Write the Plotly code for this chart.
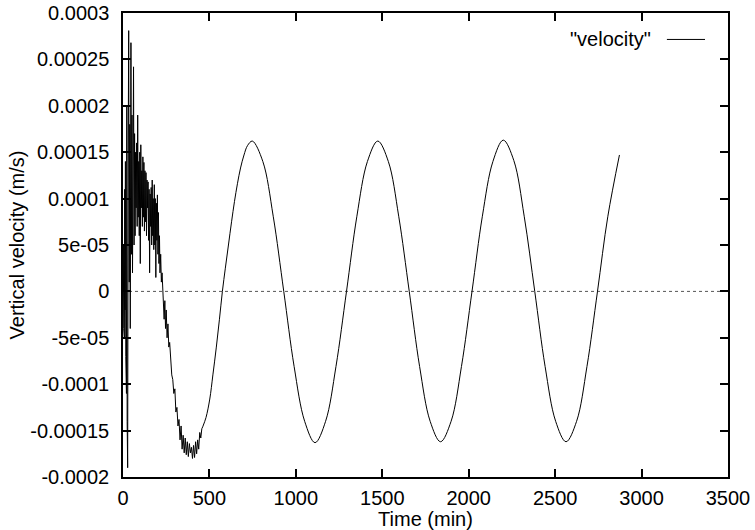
import plotly.graph_objects as go

#%% DATA
# early, noisy part of the record (time in min, velocity in m/s)
t_noisy = [0, 2, 4, 6, 8, 10, 12, 14, 16, 18, 20, 22, 24, 27, 30, 33, 36, 39, 42, 46,
           49, 52, 55, 58, 61, 64, 67, 70, 73, 76, 79, 82, 85, 88, 91, 94, 97, 100,
           103, 106, 109, 112, 115, 118, 121, 124, 127, 130, 133, 136, 139, 142, 145,
           148, 151, 154, 157, 160, 163, 166, 169, 172, 175, 178, 181, 184, 187, 190,
           193, 196, 199, 202, 205, 208, 211, 214, 218, 222, 226, 230, 234, 238, 242,
           246, 250, 255, 260, 265, 270, 276, 282, 288, 294, 300, 306, 312, 318, 324,
           330, 336, 342, 348, 354, 360, 366, 372, 378, 384, 390, 396, 402, 408, 414,
           420, 426, 432, 438, 444, 450, 456, 461]
v_noisy = [0.0, 0.5e-4, -0.4e-4, 0.9e-4, -0.5e-4, 1.1e-4, -0.2e-4, 1.4e-4, -0.7e-4, 1.7e-4,
           -1.1e-4, 2.0e-4, -1.4e-4, -1.9e-4, 1.5e-4, 2.81e-4, 0.1e-4, 1.8e-4, -0.4e-4, 2.68e-4,
           0.4e-4, 1.9e-4, 0.2e-4, 1.6e-4, 2.42e-4, 0.5e-4, 1.7e-4, 0.6e-4, 1.5e-4, 0.9e-4,
           1.6e-4, 0.7e-4, 1.9e-4, 0.8e-4, 1.4e-4, 0.6e-4, 1.5e-4, 0.3e-4,
           1.58e-4, 0.9e-4, 1.3e-4, 0.7e-4, 1.45e-4, 0.8e-4, 1.39e-4, 0.65e-4, 1.3e-4, 0.75e-4,
           1.28e-4, 0.6e-4, 1.2e-4, 0.9e-4, 1.18e-4, 0.55e-4, 1.1e-4, 0.2e-4, 1.05e-4, 0.7e-4,
           1.12e-4, 0.5e-4, 1.2e-4, 0.6e-4, 1.0e-4, 0.45e-4, 1.15e-4, 0.5e-4, 1.0e-4, 0.15e-4,
           0.95e-4, 0.55e-4, 1.04e-4, 0.4e-4, 0.85e-4, 0.3e-4, 0.6e-4, 0.2e-4, 0.4e-4, 0.1e-4,
           0.2e-4, 0.0, -0.05e-4, -0.3e-4, -0.1e-4, -0.4e-4, -0.2e-4, -0.5e-4, -0.35e-4, -0.6e-4,
           -0.55e-4, -0.8e-4, -0.9e-4, -0.95e-4, -1.1e-4, -1.05e-4, -1.3e-4, -1.25e-4, -1.45e-4,
           -1.38e-4, -1.6e-4, -1.45e-4, -1.7e-4, -1.55e-4, -1.74e-4, -1.58e-4, -1.76e-4, -1.62e-4,
           -1.78e-4, -1.64e-4, -1.74e-4, -1.68e-4, -1.8e-4, -1.66e-4, -1.79e-4, -1.62e-4,
           -1.75e-4, -1.6e-4, -1.7e-4, -1.52e-4, -1.58e-4, -1.48e-4, -1.46e-4]

# later, smooth oscillation
t_smooth = [461, 480, 502, 520, 540, 558, 575, 592, 610, 628, 645, 662, 680, 700, 720, 748,
            809, 869, 930, 990, 1051, 1111, 1172, 1232, 1293, 1353, 1414, 1474, 1535, 1595,
            1656, 1716, 1777, 1837, 1898, 1958, 2019, 2079, 2140, 2200, 2261, 2321, 2382,
            2442, 2503, 2563, 2624, 2684, 2745, 2805, 2872]
v_smooth = [-1.46e-4, -1.36e-4, -1.16e-4, -0.9e-4, -0.6e-4, -0.3e-4, 0.0, 0.25e-4, 0.5e-4,
            0.75e-4, 0.97e-4, 1.16e-4, 1.33e-4, 1.47e-4, 1.57e-4, 1.62e-4,
            1.40e-4, 0.81e-4, 0.0, -0.81e-4, -1.40e-4, -1.63e-4, -1.40e-4, -0.81e-4, 0.0,
            0.81e-4, 1.40e-4, 1.62e-4, 1.40e-4, 0.81e-4, 0.0, -0.81e-4, -1.40e-4, -1.62e-4,
            -1.40e-4, -0.81e-4, 0.0, 0.81e-4, 1.40e-4, 1.63e-4, 1.41e-4, 0.81e-4, 0.0,
            -0.81e-4, -1.40e-4, -1.62e-4, -1.40e-4, -0.81e-4, 0.0, 0.81e-4, 1.47e-4]

x_ticks = [0, 500, 1000, 1500, 2000, 2500, 3000, 3500]
y_ticks = [0.0003, 0.00025, 0.0002, 0.00015, 0.0001, 0.00005, 0,
           -0.00005, -0.0001, -0.00015, -0.0002]
y_ticktext = ['0.0003', '0.00025', '0.0002', '0.00015', '0.0001', '5e-05', '0',
              '-5e-05', '-0.0001', '-0.00015', '-0.0002']

#%% PLOT
FONT = 'Liberation Sans, Arial, sans-serif'
FS = 20

fig = go.Figure()
fig.add_trace(go.Scatter(
    x=t_noisy, y=v_noisy, mode='lines',
    line=dict(color='black', width=1),
    name='"velocity"', showlegend=False,
))
fig.add_trace(go.Scatter(
    x=t_smooth, y=v_smooth, mode='lines',
    line=dict(color='black', width=1, shape='spline', smoothing=1.0),
    name='"velocity"', showlegend=False,
))

# dotted zero line
fig.add_hline(y=0, line=dict(color='#555555', width=1, dash='dot'), layer='below')

# gnuplot-style key: label then line sample
fig.add_annotation(
    x=0.876, y=0.943, xref='paper', yref='paper',
    text='"velocity"', showarrow=False, xanchor='right', yanchor='middle',
    font=dict(family=FONT, size=FS, color='black'),
)
fig.add_shape(
    type='line', xref='paper', yref='paper',
    x0=0.899, x1=0.962, y0=0.943, y1=0.943,
    line=dict(color='black', width=1),
)

axis_common = dict(
    showline=True, linecolor='black', linewidth=1.5, mirror='ticks',
    ticks='inside', ticklen=8, tickwidth=1.5, tickcolor='black',
    showgrid=False, zeroline=False, automargin=False,
    ticklabeloverflow='allow',
    tickfont=dict(family=FONT, size=FS, color='black'),
)

fig.update_layout(
    width=755, height=530,
    margin=dict(l=123, r=27, t=13, b=53),
    paper_bgcolor='white', plot_bgcolor='white',
    font=dict(family=FONT, size=FS, color='black'),
    xaxis=dict(
        range=[0, 3500], tickvals=x_ticks,
        title=dict(text='Time (min)', standoff=0, font=dict(family=FONT, size=FS)),
        ticklabelstandoff=2,
        **axis_common,
    ),
    yaxis=dict(
        range=[-0.0002, 0.0003], tickvals=y_ticks, ticktext=y_ticktext,
        title=dict(text='Vertical velocity (m/s)', standoff=0, font=dict(family=FONT, size=FS)),
        ticklabelstandoff=8,
        **axis_common,
    ),
    showlegend=False,
)

# drop the default page margin so the figure sits at the window's top-left corner
fig.write_html(
    "out.html",
    config={'displayModeBar': False},
    post_script="document.body.style.margin='0px';",
)
